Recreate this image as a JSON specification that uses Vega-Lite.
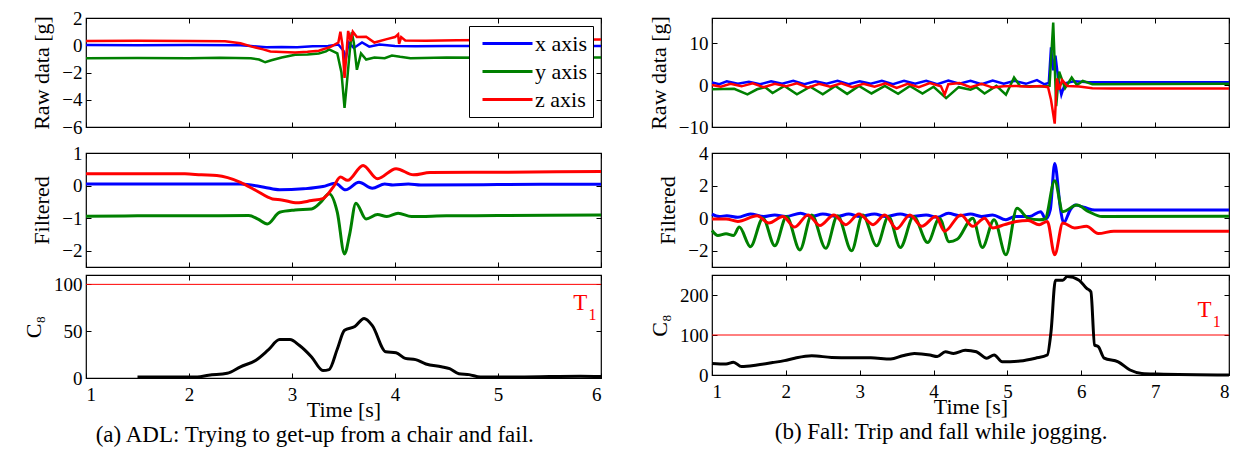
{
"$schema": "https://vega.github.io/schema/vega-lite/v6.json",
"autosize": {"type": "pad"},
"padding": {"left": 21, "top": 8, "right": 5, "bottom": 5},
"background": "white",
"config": {
  "font": "Liberation Serif",
  "view": {"stroke": "black", "strokeWidth": 1.2},
  "axis": {"grid": false, "domain": false, "tickColor": "black", "tickSize": -5, "labelPadding": 9, "labelFontSize": 19, "labelColor": "black", "titleFontSize": 22, "titleFontWeight": "normal", "titleColor": "black", "titlePadding": 8, "labelFont": "Liberation Serif", "titleFont": "Liberation Serif", "format": "d"},
  "legend": {"labelFont": "Liberation Serif"}
},
"datasets": {
  "rawA": [
    {"t":1,"v":0.02,"a":"x axis"},{"t":1.5,"v":0.0,"a":"x axis"},{"t":2,"v":0.02,"a":"x axis"},{"t":2.5,"v":0.0,"a":"x axis"},{"t":2.6,"v":-0.05,"a":"x axis"},{"t":2.75,"v":-0.15,"a":"x axis"},{"t":2.9,"v":-0.12,"a":"x axis"},{"t":3.05,"v":-0.15,"a":"x axis"},{"t":3.2,"v":-0.08,"a":"x axis"},{"t":3.35,"v":-0.05,"a":"x axis"},{"t":3.45,"v":0.05,"a":"x axis"},{"t":3.5,"v":-0.4,"a":"x axis"},{"t":3.52,"v":-1.1,"a":"x axis"},{"t":3.55,"v":0.2,"a":"x axis"},{"t":3.6,"v":-0.2,"a":"x axis"},{"t":3.68,"v":0.2,"a":"x axis"},{"t":3.75,"v":-0.1,"a":"x axis"},{"t":3.85,"v":0.05,"a":"x axis"},{"t":4.0,"v":-0.05,"a":"x axis"},{"t":4.2,"v":-0.08,"a":"x axis"},{"t":4.5,"v":-0.05,"a":"x axis"},{"t":5,"v":-0.05,"a":"x axis"},{"t":5.5,"v":-0.05,"a":"x axis"},{"t":6,"v":-0.05,"a":"x axis"},
    {"t":1,"v":-0.95,"a":"y axis"},{"t":1.5,"v":-0.93,"a":"y axis"},{"t":2,"v":-0.95,"a":"y axis"},{"t":2.3,"v":-0.92,"a":"y axis"},{"t":2.6,"v":-0.95,"a":"y axis"},{"t":2.68,"v":-1.05,"a":"y axis"},{"t":2.74,"v":-1.25,"a":"y axis"},{"t":2.8,"v":-1.1,"a":"y axis"},{"t":2.9,"v":-0.9,"a":"y axis"},{"t":3.03,"v":-0.7,"a":"y axis"},{"t":3.15,"v":-0.68,"a":"y axis"},{"t":3.26,"v":-0.6,"a":"y axis"},{"t":3.33,"v":-0.45,"a":"y axis"},{"t":3.36,"v":-0.3,"a":"y axis"},{"t":3.4,"v":-0.45,"a":"y axis"},{"t":3.44,"v":-0.6,"a":"y axis"},{"t":3.48,"v":-2.0,"a":"y axis"},{"t":3.51,"v":-4.6,"a":"y axis"},{"t":3.53,"v":-3.0,"a":"y axis"},{"t":3.56,"v":-0.5,"a":"y axis"},{"t":3.58,"v":0.95,"a":"y axis"},{"t":3.6,"v":0.2,"a":"y axis"},{"t":3.63,"v":-1.8,"a":"y axis"},{"t":3.67,"v":-0.6,"a":"y axis"},{"t":3.72,"v":-1.05,"a":"y axis"},{"t":3.8,"v":-0.9,"a":"y axis"},{"t":3.9,"v":-0.95,"a":"y axis"},{"t":3.97,"v":-0.75,"a":"y axis"},{"t":4.05,"v":-0.85,"a":"y axis"},{"t":4.15,"v":-0.95,"a":"y axis"},{"t":4.5,"v":-0.9,"a":"y axis"},{"t":5,"v":-0.92,"a":"y axis"},{"t":5.5,"v":-0.9,"a":"y axis"},{"t":6,"v":-0.9,"a":"y axis"},
    {"t":1,"v":0.32,"a":"z axis"},{"t":1.5,"v":0.33,"a":"z axis"},{"t":2,"v":0.32,"a":"z axis"},{"t":2.35,"v":0.3,"a":"z axis"},{"t":2.5,"v":0.15,"a":"z axis"},{"t":2.61,"v":-0.1,"a":"z axis"},{"t":2.72,"v":-0.3,"a":"z axis"},{"t":2.79,"v":-0.46,"a":"z axis"},{"t":2.9,"v":-0.5,"a":"z axis"},{"t":3.03,"v":-0.54,"a":"z axis"},{"t":3.15,"v":-0.48,"a":"z axis"},{"t":3.26,"v":-0.4,"a":"z axis"},{"t":3.38,"v":-0.1,"a":"z axis"},{"t":3.45,"v":0.2,"a":"z axis"},{"t":3.47,"v":1.0,"a":"z axis"},{"t":3.49,"v":0.0,"a":"z axis"},{"t":3.51,"v":-2.4,"a":"z axis"},{"t":3.53,"v":-0.5,"a":"z axis"},{"t":3.545,"v":1.05,"a":"z axis"},{"t":3.57,"v":0.3,"a":"z axis"},{"t":3.59,"v":1.0,"a":"z axis"},{"t":3.63,"v":0.6,"a":"z axis"},{"t":3.72,"v":0.63,"a":"z axis"},{"t":3.8,"v":0.2,"a":"z axis"},{"t":3.92,"v":0.45,"a":"z axis"},{"t":4.0,"v":0.6,"a":"z axis"},{"t":4.03,"v":0.8,"a":"z axis"},{"t":4.04,"v":0.1,"a":"z axis"},{"t":4.06,"v":0.6,"a":"z axis"},{"t":4.1,"v":0.35,"a":"z axis"},{"t":4.3,"v":0.33,"a":"z axis"},{"t":4.6,"v":0.36,"a":"z axis"},{"t":5,"v":0.38,"a":"z axis"},{"t":5.5,"v":0.4,"a":"z axis"},{"t":6,"v":0.42,"a":"z axis"}
  ],
  "filtA": [
    {"t":1,"v":0.05,"a":"x axis"},{"t":2,"v":0.05,"a":"x axis"},{"t":2.5,"v":0.05,"a":"x axis"},{"t":2.73,"v":-0.05,"a":"x axis"},{"t":2.88,"v":-0.13,"a":"x axis"},{"t":3.11,"v":-0.1,"a":"x axis"},{"t":3.3,"v":-0.03,"a":"x axis"},{"t":3.42,"v":0.07,"a":"x axis"},{"t":3.52,"v":-0.13,"a":"x axis"},{"t":3.65,"v":0.1,"a":"x axis"},{"t":3.78,"v":-0.08,"a":"x axis"},{"t":3.9,"v":0.05,"a":"x axis"},{"t":3.98,"v":0.02,"a":"x axis"},{"t":4.13,"v":0.05,"a":"x axis"},{"t":4.25,"v":0.02,"a":"x axis"},{"t":5,"v":0.03,"a":"x axis"},{"t":5.5,"v":0.04,"a":"x axis"},{"t":6,"v":0.04,"a":"x axis"},
    {"t":1,"v":-0.94,"a":"y axis"},{"t":1.5,"v":-0.93,"a":"y axis"},{"t":2,"v":-0.93,"a":"y axis"},{"t":2.58,"v":-0.92,"a":"y axis"},{"t":2.67,"v":-1.03,"a":"y axis"},{"t":2.76,"v":-1.18,"a":"y axis"},{"t":2.88,"v":-0.82,"a":"y axis"},{"t":3.03,"v":-0.75,"a":"y axis"},{"t":3.19,"v":-0.72,"a":"y axis"},{"t":3.28,"v":-0.51,"a":"y axis"},{"t":3.36,"v":-0.25,"a":"y axis"},{"t":3.44,"v":-0.82,"a":"y axis"},{"t":3.51,"v":-2.1,"a":"y axis"},{"t":3.56,"v":-1.49,"a":"y axis"},{"t":3.62,"v":-0.54,"a":"y axis"},{"t":3.72,"v":-1.03,"a":"y axis"},{"t":3.83,"v":-0.89,"a":"y axis"},{"t":3.92,"v":-0.95,"a":"y axis"},{"t":4.03,"v":-0.85,"a":"y axis"},{"t":4.16,"v":-0.95,"a":"y axis"},{"t":4.5,"v":-0.93,"a":"y axis"},{"t":5,"v":-0.92,"a":"y axis"},{"t":6,"v":-0.9,"a":"y axis"},
    {"t":1,"v":0.36,"a":"z axis"},{"t":1.96,"v":0.36,"a":"z axis"},{"t":2.12,"v":0.33,"a":"z axis"},{"t":2.27,"v":0.31,"a":"z axis"},{"t":2.5,"v":0.1,"a":"z axis"},{"t":2.65,"v":-0.15,"a":"z axis"},{"t":2.81,"v":-0.41,"a":"z axis"},{"t":2.9,"v":-0.44,"a":"z axis"},{"t":3.05,"v":-0.53,"a":"z axis"},{"t":3.19,"v":-0.46,"a":"z axis"},{"t":3.3,"v":-0.4,"a":"z axis"},{"t":3.4,"v":-0.05,"a":"z axis"},{"t":3.47,"v":0.26,"a":"z axis"},{"t":3.54,"v":0.16,"a":"z axis"},{"t":3.69,"v":0.62,"a":"z axis"},{"t":3.83,"v":0.21,"a":"z axis"},{"t":4.01,"v":0.52,"a":"z axis"},{"t":4.18,"v":0.33,"a":"z axis"},{"t":4.34,"v":0.4,"a":"z axis"},{"t":5,"v":0.41,"a":"z axis"},{"t":6,"v":0.43,"a":"z axis"}
  ],
  "c8A": [
    {"t":1.5,"v":1},{"t":1.85,"v":1},{"t":2.08,"v":1},{"t":2.19,"v":3},{"t":2.37,"v":5},{"t":2.5,"v":12},{"t":2.65,"v":19},{"t":2.77,"v":30},{"t":2.88,"v":41},{"t":2.98,"v":41},{"t":3.07,"v":35},{"t":3.19,"v":22.5},{"t":3.3,"v":8},{"t":3.36,"v":9},{"t":3.44,"v":31},{"t":3.51,"v":51},{"t":3.61,"v":55},{"t":3.7,"v":63.6},{"t":3.78,"v":56},{"t":3.91,"v":28},{"t":4.01,"v":27},{"t":4.1,"v":21},{"t":4.2,"v":19.6},{"t":4.3,"v":15},{"t":4.45,"v":12},{"t":4.53,"v":10},{"t":4.62,"v":4.6},{"t":4.72,"v":3.6},{"t":4.83,"v":1},{"t":5.2,"v":1},{"t":5.8,"v":2},{"t":6,"v":1.5}
  ],
  "annA": [{"thr":100,"t":5.8,"v":80,"lab":"T","sub":"1"}],
  "rawB": [
    {"t":1,"v":0.6,"a":"x axis"},{"t":1.1,"v":0.2,"a":"x axis"},{"t":1.2,"v":0.9,"a":"x axis"},{"t":1.35,"v":0.3,"a":"x axis"},{"t":1.5,"v":0.8,"a":"x axis"},{"t":1.65,"v":0.2,"a":"x axis"},{"t":1.8,"v":0.9,"a":"x axis"},{"t":1.95,"v":0.3,"a":"x axis"},{"t":2.1,"v":1.0,"a":"x axis"},{"t":2.25,"v":0.2,"a":"x axis"},{"t":2.4,"v":0.9,"a":"x axis"},{"t":2.55,"v":0.3,"a":"x axis"},{"t":2.7,"v":1.0,"a":"x axis"},{"t":2.85,"v":0.2,"a":"x axis"},{"t":3.0,"v":0.9,"a":"x axis"},{"t":3.15,"v":0.3,"a":"x axis"},{"t":3.3,"v":1.0,"a":"x axis"},{"t":3.45,"v":0.2,"a":"x axis"},{"t":3.6,"v":1.0,"a":"x axis"},{"t":3.75,"v":0.3,"a":"x axis"},{"t":3.9,"v":1.0,"a":"x axis"},{"t":4.05,"v":0.2,"a":"x axis"},{"t":4.2,"v":1.1,"a":"x axis"},{"t":4.35,"v":0.3,"a":"x axis"},{"t":4.5,"v":1.0,"a":"x axis"},{"t":4.65,"v":0.2,"a":"x axis"},{"t":4.8,"v":1.1,"a":"x axis"},{"t":4.95,"v":0.3,"a":"x axis"},{"t":5.1,"v":1.0,"a":"x axis"},{"t":5.25,"v":0.3,"a":"x axis"},{"t":5.4,"v":1.2,"a":"x axis"},{"t":5.5,"v":0.2,"a":"x axis"},{"t":5.56,"v":0.5,"a":"x axis"},{"t":5.59,"v":9,"a":"x axis"},{"t":5.62,"v":3.5,"a":"x axis"},{"t":5.65,"v":7,"a":"x axis"},{"t":5.69,"v":1.2,"a":"x axis"},{"t":5.73,"v":-2.3,"a":"x axis"},{"t":5.78,"v":0.4,"a":"x axis"},{"t":5.9,"v":0.9,"a":"x axis"},{"t":6.1,"v":0.7,"a":"x axis"},{"t":8,"v":0.7,"a":"x axis"},
    {"t":1.0,"v":-1.0,"a":"y axis"},{"t":1.3,"v":-0.9,"a":"y axis"},{"t":1.48,"v":-2.2,"a":"y axis"},{"t":1.61,"v":-1.0,"a":"y axis"},{"t":1.72,"v":-0.5,"a":"y axis"},{"t":1.82,"v":-1.9,"a":"y axis"},{"t":1.98,"v":-0.2,"a":"y axis"},{"t":2.15,"v":-2.2,"a":"y axis"},{"t":2.33,"v":-0.4,"a":"y axis"},{"t":2.5,"v":-2.2,"a":"y axis"},{"t":2.67,"v":-0.2,"a":"y axis"},{"t":2.83,"v":-2.1,"a":"y axis"},{"t":2.99,"v":-0.2,"a":"y axis"},{"t":3.16,"v":-2.0,"a":"y axis"},{"t":3.34,"v":-0.2,"a":"y axis"},{"t":3.52,"v":-2.1,"a":"y axis"},{"t":3.68,"v":-0.2,"a":"y axis"},{"t":3.85,"v":-2.0,"a":"y axis"},{"t":4.0,"v":-0.4,"a":"y axis"},{"t":4.17,"v":-3.1,"a":"y axis"},{"t":4.34,"v":-0.5,"a":"y axis"},{"t":4.5,"v":-1.1,"a":"y axis"},{"t":4.58,"v":-0.5,"a":"y axis"},{"t":4.69,"v":-2.0,"a":"y axis"},{"t":4.85,"v":-0.2,"a":"y axis"},{"t":4.98,"v":-2.3,"a":"y axis"},{"t":5.09,"v":1.8,"a":"y axis"},{"t":5.17,"v":-0.2,"a":"y axis"},{"t":5.49,"v":-0.35,"a":"y axis"},{"t":5.57,"v":-0.2,"a":"y axis"},{"t":5.62,"v":14.9,"a":"y axis"},{"t":5.66,"v":-5,"a":"y axis"},{"t":5.7,"v":3.2,"a":"y axis"},{"t":5.78,"v":-0.75,"a":"y axis"},{"t":5.87,"v":1.8,"a":"y axis"},{"t":5.94,"v":0.0,"a":"y axis"},{"t":6.02,"v":1.0,"a":"y axis"},{"t":6.15,"v":0.2,"a":"y axis"},{"t":8,"v":0.3,"a":"y axis"},
    {"t":1,"v":0.0,"a":"z axis"},{"t":1.12,"v":-0.4,"a":"z axis"},{"t":1.25,"v":0.3,"a":"z axis"},{"t":1.4,"v":-0.3,"a":"z axis"},{"t":1.55,"v":0.4,"a":"z axis"},{"t":1.7,"v":-0.5,"a":"z axis"},{"t":1.85,"v":0.3,"a":"z axis"},{"t":2.0,"v":-0.3,"a":"z axis"},{"t":2.15,"v":0.4,"a":"z axis"},{"t":2.3,"v":-0.6,"a":"z axis"},{"t":2.45,"v":0.3,"a":"z axis"},{"t":2.6,"v":-0.4,"a":"z axis"},{"t":2.75,"v":0.4,"a":"z axis"},{"t":2.9,"v":-0.5,"a":"z axis"},{"t":3.05,"v":0.3,"a":"z axis"},{"t":3.2,"v":-0.4,"a":"z axis"},{"t":3.35,"v":0.4,"a":"z axis"},{"t":3.5,"v":-0.7,"a":"z axis"},{"t":3.65,"v":0.3,"a":"z axis"},{"t":3.8,"v":-0.5,"a":"z axis"},{"t":3.95,"v":0.5,"a":"z axis"},{"t":4.1,"v":-0.3,"a":"z axis"},{"t":4.15,"v":-2.3,"a":"z axis"},{"t":4.2,"v":0.2,"a":"z axis"},{"t":4.35,"v":0.5,"a":"z axis"},{"t":4.5,"v":-0.5,"a":"z axis"},{"t":4.65,"v":0.3,"a":"z axis"},{"t":4.8,"v":-0.6,"a":"z axis"},{"t":4.95,"v":-0.3,"a":"z axis"},{"t":5.1,"v":-0.2,"a":"z axis"},{"t":5.3,"v":-0.4,"a":"z axis"},{"t":5.45,"v":-0.2,"a":"z axis"},{"t":5.55,"v":-0.5,"a":"z axis"},{"t":5.59,"v":-3.5,"a":"z axis"},{"t":5.64,"v":-9.2,"a":"z axis"},{"t":5.67,"v":1.6,"a":"z axis"},{"t":5.7,"v":-1.1,"a":"z axis"},{"t":5.74,"v":1.2,"a":"z axis"},{"t":5.81,"v":-0.2,"a":"z axis"},{"t":5.97,"v":-0.35,"a":"z axis"},{"t":6.15,"v":-0.75,"a":"z axis"},{"t":6.4,"v":-0.8,"a":"z axis"},{"t":8,"v":-0.8,"a":"z axis"}
  ],
  "filtB": [
    {"t":1,"v":0.25,"a":"x axis"},{"t":1.1,"v":0.1,"a":"x axis"},{"t":1.2,"v":0.15,"a":"x axis"},{"t":1.35,"v":0.05,"a":"x axis"},{"t":1.52,"v":0.25,"a":"x axis"},{"t":1.7,"v":0.1,"a":"x axis"},{"t":1.85,"v":0.2,"a":"x axis"},{"t":2.0,"v":0.1,"a":"x axis"},{"t":2.2,"v":0.3,"a":"x axis"},{"t":2.35,"v":0.1,"a":"x axis"},{"t":2.5,"v":0.25,"a":"x axis"},{"t":2.7,"v":0.1,"a":"x axis"},{"t":2.85,"v":0.25,"a":"x axis"},{"t":3.0,"v":0.1,"a":"x axis"},{"t":3.2,"v":0.25,"a":"x axis"},{"t":3.35,"v":0.1,"a":"x axis"},{"t":3.55,"v":0.25,"a":"x axis"},{"t":3.7,"v":0.1,"a":"x axis"},{"t":3.9,"v":0.2,"a":"x axis"},{"t":4.05,"v":0.05,"a":"x axis"},{"t":4.2,"v":0.3,"a":"x axis"},{"t":4.35,"v":0.15,"a":"x axis"},{"t":4.5,"v":0.25,"a":"x axis"},{"t":4.65,"v":0.1,"a":"x axis"},{"t":4.8,"v":0.2,"a":"x axis"},{"t":4.98,"v":-0.1,"a":"x axis"},{"t":5.1,"v":0.1,"a":"x axis"},{"t":5.3,"v":0.1,"a":"x axis"},{"t":5.45,"v":0.4,"a":"x axis"},{"t":5.52,"v":-0.05,"a":"x axis"},{"t":5.58,"v":0.5,"a":"x axis"},{"t":5.64,"v":3.35,"a":"x axis"},{"t":5.72,"v":0.5,"a":"x axis"},{"t":5.76,"v":-0.3,"a":"x axis"},{"t":5.85,"v":0.5,"a":"x axis"},{"t":5.92,"v":0.8,"a":"x axis"},{"t":6.05,"v":0.65,"a":"x axis"},{"t":6.18,"v":0.5,"a":"x axis"},{"t":8,"v":0.5,"a":"x axis"},
    {"t":1.0,"v":-0.76,"a":"y axis"},{"t":1.08,"v":-1.07,"a":"y axis"},{"t":1.19,"v":-0.96,"a":"y axis"},{"t":1.29,"v":-1.07,"a":"y axis"},{"t":1.37,"v":-0.55,"a":"y axis"},{"t":1.52,"v":-1.75,"a":"y axis"},{"t":1.69,"v":0.0,"a":"y axis"},{"t":1.85,"v":-1.7,"a":"y axis"},{"t":2.01,"v":0.1,"a":"y axis"},{"t":2.19,"v":-1.95,"a":"y axis"},{"t":2.35,"v":0.2,"a":"y axis"},{"t":2.54,"v":-1.85,"a":"y axis"},{"t":2.7,"v":0.15,"a":"y axis"},{"t":2.89,"v":-2.0,"a":"y axis"},{"t":3.04,"v":0.2,"a":"y axis"},{"t":3.23,"v":-1.7,"a":"y axis"},{"t":3.39,"v":0.1,"a":"y axis"},{"t":3.55,"v":-1.8,"a":"y axis"},{"t":3.73,"v":0.1,"a":"y axis"},{"t":3.92,"v":-1.5,"a":"y axis"},{"t":4.08,"v":0.0,"a":"y axis"},{"t":4.21,"v":-1.45,"a":"y axis"},{"t":4.32,"v":-1.3,"a":"y axis"},{"t":4.53,"v":0.0,"a":"y axis"},{"t":4.66,"v":-1.8,"a":"y axis"},{"t":4.82,"v":-0.1,"a":"y axis"},{"t":4.98,"v":-2.25,"a":"y axis"},{"t":5.13,"v":0.6,"a":"y axis"},{"t":5.28,"v":0.0,"a":"y axis"},{"t":5.43,"v":-0.1,"a":"y axis"},{"t":5.51,"v":-0.05,"a":"y axis"},{"t":5.64,"v":2.3,"a":"y axis"},{"t":5.75,"v":0.4,"a":"y axis"},{"t":5.94,"v":0.8,"a":"y axis"},{"t":6.1,"v":0.4,"a":"y axis"},{"t":6.28,"v":0.1,"a":"y axis"},{"t":8,"v":0.12,"a":"y axis"},
    {"t":1.0,"v":-0.05,"a":"z axis"},{"t":1.19,"v":-0.05,"a":"z axis"},{"t":1.35,"v":-0.2,"a":"z axis"},{"t":1.61,"v":0.15,"a":"z axis"},{"t":1.77,"v":-0.3,"a":"z axis"},{"t":1.96,"v":0.1,"a":"z axis"},{"t":2.12,"v":-0.55,"a":"z axis"},{"t":2.3,"v":0.2,"a":"z axis"},{"t":2.46,"v":-0.45,"a":"z axis"},{"t":2.65,"v":0.2,"a":"z axis"},{"t":2.81,"v":-0.4,"a":"z axis"},{"t":2.99,"v":0.25,"a":"z axis"},{"t":3.18,"v":-0.4,"a":"z axis"},{"t":3.34,"v":0.2,"a":"z axis"},{"t":3.5,"v":-0.65,"a":"z axis"},{"t":3.68,"v":0.2,"a":"z axis"},{"t":3.84,"v":-0.5,"a":"z axis"},{"t":4.03,"v":0.1,"a":"z axis"},{"t":4.15,"v":-0.8,"a":"z axis"},{"t":4.37,"v":0.2,"a":"z axis"},{"t":4.53,"v":-0.5,"a":"z axis"},{"t":4.69,"v":0.0,"a":"z axis"},{"t":4.8,"v":-0.6,"a":"z axis"},{"t":4.96,"v":-0.4,"a":"z axis"},{"t":5.12,"v":-0.2,"a":"z axis"},{"t":5.28,"v":-0.15,"a":"z axis"},{"t":5.43,"v":-0.4,"a":"z axis"},{"t":5.54,"v":-0.2,"a":"z axis"},{"t":5.64,"v":-2.25,"a":"z axis"},{"t":5.75,"v":-0.3,"a":"z axis"},{"t":5.91,"v":-0.6,"a":"z axis"},{"t":6.07,"v":-0.5,"a":"z axis"},{"t":6.23,"v":-0.95,"a":"z axis"},{"t":6.44,"v":-0.8,"a":"z axis"},{"t":8,"v":-0.8,"a":"z axis"}
  ],
  "c8B": [
    {"t":1.0,"v":29},{"t":1.19,"v":27.5},{"t":1.29,"v":32},{"t":1.4,"v":21},{"t":1.61,"v":25},{"t":1.82,"v":31},{"t":1.98,"v":36},{"t":2.12,"v":42},{"t":2.35,"v":48},{"t":2.62,"v":44},{"t":2.88,"v":43},{"t":3.15,"v":43},{"t":3.42,"v":40},{"t":3.58,"v":48},{"t":3.74,"v":54},{"t":3.95,"v":50},{"t":4.05,"v":46},{"t":4.16,"v":58},{"t":4.27,"v":54},{"t":4.43,"v":62},{"t":4.58,"v":58},{"t":4.72,"v":42},{"t":4.82,"v":50},{"t":4.93,"v":33},{"t":5.17,"v":35},{"t":5.38,"v":42},{"t":5.54,"v":50},{"t":5.59,"v":108},{"t":5.65,"v":237},{"t":5.75,"v":237},{"t":5.81,"v":246},{"t":5.97,"v":237},{"t":6.07,"v":217},{"t":6.13,"v":208},{"t":6.18,"v":75},{"t":6.23,"v":71},{"t":6.31,"v":42},{"t":6.5,"v":33},{"t":6.66,"v":12.5},{"t":6.82,"v":4},{"t":7.03,"v":2.5},{"t":8,"v":0}
  ],
  "annB": [{"thr":100,"t":7.67,"v":162,"lab":"T","sub":"1"}]
},
"spacing": 38,
"resolve": {"scale": {"color": "independent"}, "legend": {"color": "independent"}},
"hconcat": [
  {
    "spacing": 5,
    "title": {"text": "(a)  ADL: Trying to get-up from a chair and fail.", "orient": "bottom", "anchor": "middle", "fontSize": 23, "fontWeight": "normal", "font": "Liberation Serif", "offset": 3, "color": "black"},
    "resolve": {"scale": {"color": "independent"}, "legend": {"color": "independent"}},
    "vconcat": [
      {
        "width": 515, "height": 109,
        "resolve": {"scale": {"x": "independent", "y": "independent"}},
        "layer": [
          {
            "data": {"name": "rawA"},
            "mark": {"type": "line", "strokeWidth": 2.5},
            "encoding": {
              "x": {"field": "t", "type": "quantitative", "scale": {"domain": [1, 6], "nice": false, "zero": false}, "axis": {"values": [1, 2, 3, 4, 5, 6], "labels": false, "title": null}},
              "y": {"field": "v", "type": "quantitative", "scale": {"domain": [-6, 2], "nice": false, "zero": false}, "axis": {"values": [-6, -4, -2, 0, 2], "title": "Raw data [g]"}},
              "color": {"field": "a", "type": "nominal", "scale": {"domain": ["x axis", "y axis", "z axis"], "range": ["#0000ff", "#008000", "#ff0000"]},
                "legend": {"title": null, "orient": "top-right", "offset": 8, "strokeColor": "black", "fillColor": "white", "padding": 6, "symbolType": "M-0.4,0H4.6", "symbolSize": 400, "symbolStrokeWidth": 3, "labelOffset": 37, "labelFontSize": 22, "labelColor": "black", "rowPadding": 5}}
            }
          },
          {
            "data": {"name": "rawA"},
            "mark": {"type": "line", "opacity": 0},
            "encoding": {
              "x": {"field": "t", "type": "quantitative", "scale": {"domain": [1, 6], "nice": false, "zero": false}, "axis": {"orient": "top", "values": [1, 2, 3, 4, 5, 6], "labels": false, "title": null}},
              "y": {"field": "v", "type": "quantitative", "scale": {"domain": [-6, 2], "nice": false, "zero": false}, "axis": {"orient": "right", "values": [-6, -4, -2, 0, 2], "labels": false, "title": null}}
            }
          }
        ]
      },
      {
        "spacing": 4,
        "resolve": {"scale": {"color": "independent"}, "legend": {"color": "independent"}},
        "vconcat": [
          {
            "width": 515, "height": 114,
            "resolve": {"scale": {"x": "independent", "y": "independent"}},
            "layer": [
              {
                "data": {"name": "filtA"},
                "mark": {"type": "line", "strokeWidth": 3, "interpolate": "monotone"},
                "encoding": {
                  "x": {"field": "t", "type": "quantitative", "scale": {"domain": [1, 6], "nice": false, "zero": false}, "axis": {"values": [1, 2, 3, 4, 5, 6], "labels": false, "title": null}},
                  "y": {"field": "v", "type": "quantitative", "scale": {"domain": [-2.5, 1], "nice": false, "zero": false}, "axis": {"values": [-2, -1, 0, 1], "title": "Filtered"}},
                  "color": {"field": "a", "type": "nominal", "scale": {"domain": ["x axis", "y axis", "z axis"], "range": ["#0000ff", "#008000", "#ff0000"]}, "legend": null}
                }
              },
              {
                "data": {"name": "filtA"},
                "mark": {"type": "line", "opacity": 0},
                "encoding": {
                  "x": {"field": "t", "type": "quantitative", "scale": {"domain": [1, 6], "nice": false, "zero": false}, "axis": {"orient": "top", "values": [1, 2, 3, 4, 5, 6], "labels": false, "title": null}},
                  "y": {"field": "v", "type": "quantitative", "scale": {"domain": [-2.5, 1], "nice": false, "zero": false}, "axis": {"orient": "right", "values": [-2, -1, 0, 1], "labels": false, "title": null}}
                }
              }
            ]
          },
          {
            "width": 515, "height": 103,
            "resolve": {"scale": {"x": "independent", "y": "independent"}},
            "layer": [
              {
                "layer": [
                  {
                    "data": {"name": "annA"},
                    "mark": {"type": "rule", "color": "#ff0000", "strokeWidth": 1},
                    "encoding": {"y": {"field": "thr", "type": "quantitative", "scale": {"domain": [0, 110], "nice": false}, "axis": {"values": [0, 50, 100], "title": "C₈"}}}
                  },
                  {
                    "data": {"name": "c8A"},
                    "mark": {"type": "line", "color": "black", "strokeWidth": 3, "interpolate": "monotone"},
                    "encoding": {
                      "x": {"field": "t", "type": "quantitative", "scale": {"domain": [1, 6], "nice": false, "zero": false}, "axis": {"values": [1, 2, 3, 4, 5, 6], "title": "Time [s]", "labelPadding": 12, "titlePadding": -5}},
                      "y": {"field": "v", "type": "quantitative"}
                    }
                  },
                  {
                    "data": {"name": "annA"},
                    "mark": {"type": "text", "color": "#ff0000", "fontSize": 23, "font": "Liberation Serif"},
                    "encoding": {"x": {"field": "t", "type": "quantitative"}, "y": {"field": "v", "type": "quantitative"}, "text": {"field": "lab"}}
                  },
                  {
                    "data": {"name": "annA"},
                    "mark": {"type": "text", "color": "#ff0000", "fontSize": 16, "font": "Liberation Serif", "dx": 12, "dy": 12},
                    "encoding": {"x": {"field": "t", "type": "quantitative"}, "y": {"field": "v", "type": "quantitative"}, "text": {"field": "sub"}}
                  }
                ]
              },
              {
                "data": {"name": "c8A"},
                "mark": {"type": "line", "opacity": 0},
                "encoding": {
                  "x": {"field": "t", "type": "quantitative", "scale": {"domain": [1, 6], "nice": false, "zero": false}, "axis": {"orient": "top", "values": [1, 2, 3, 4, 5, 6], "labels": false, "title": null}},
                  "y": {"field": "v", "type": "quantitative", "scale": {"domain": [0, 110], "nice": false, "zero": false}, "axis": {"orient": "right", "values": [0, 50, 100], "labels": false, "title": null}}
                }
              }
            ]
          }
        ]
      }
    ]
  },
  {
    "spacing": 5,
    "title": {"text": "(b)  Fall: Trip and fall while jogging.", "orient": "bottom", "anchor": "middle", "fontSize": 23, "fontWeight": "normal", "font": "Liberation Serif", "offset": 3, "color": "black"},
    "resolve": {"scale": {"color": "independent"}, "legend": {"color": "independent"}},
    "vconcat": [
      {
        "width": 517, "height": 109,
        "resolve": {"scale": {"x": "independent", "y": "independent"}},
        "layer": [
          {
            "data": {"name": "rawB"},
            "mark": {"type": "line", "strokeWidth": 2.5},
            "encoding": {
              "x": {"field": "t", "type": "quantitative", "scale": {"domain": [1, 8], "nice": false, "zero": false}, "axis": {"values": [1, 2, 3, 4, 5, 6, 7, 8], "labels": false, "title": null}},
              "y": {"field": "v", "type": "quantitative", "scale": {"domain": [-10, 16], "nice": false, "zero": false}, "axis": {"values": [-10, 0, 10], "title": "Raw data [g]"}},
              "color": {"field": "a", "type": "nominal", "scale": {"domain": ["x axis", "y axis", "z axis"], "range": ["#0000ff", "#008000", "#ff0000"]}, "legend": null}
            }
          },
          {
            "data": {"name": "rawB"},
            "mark": {"type": "line", "opacity": 0},
            "encoding": {
              "x": {"field": "t", "type": "quantitative", "scale": {"domain": [1, 8], "nice": false, "zero": false}, "axis": {"orient": "top", "values": [1, 2, 3, 4, 5, 6, 7, 8], "labels": false, "title": null}},
              "y": {"field": "v", "type": "quantitative", "scale": {"domain": [-10, 16], "nice": false, "zero": false}, "axis": {"orient": "right", "values": [-10, 0, 10], "labels": false, "title": null}}
            }
          }
        ]
      },
      {
        "spacing": 1,
        "resolve": {"scale": {"color": "independent"}, "legend": {"color": "independent"}},
        "vconcat": [
          {
            "width": 517, "height": 114,
            "resolve": {"scale": {"x": "independent", "y": "independent"}},
            "layer": [
              {
                "data": {"name": "filtB"},
                "mark": {"type": "line", "strokeWidth": 3, "interpolate": "monotone"},
                "encoding": {
                  "x": {"field": "t", "type": "quantitative", "scale": {"domain": [1, 8], "nice": false, "zero": false}, "axis": {"values": [1, 2, 3, 4, 5, 6, 7, 8], "labels": false, "title": null}},
                  "y": {"field": "v", "type": "quantitative", "scale": {"domain": [-3, 4], "nice": false, "zero": false}, "axis": {"values": [-2, 0, 2, 4], "title": "Filtered"}},
                  "color": {"field": "a", "type": "nominal", "scale": {"domain": ["x axis", "y axis", "z axis"], "range": ["#0000ff", "#008000", "#ff0000"]}, "legend": null}
                }
              },
              {
                "data": {"name": "filtB"},
                "mark": {"type": "line", "opacity": 0},
                "encoding": {
                  "x": {"field": "t", "type": "quantitative", "scale": {"domain": [1, 8], "nice": false, "zero": false}, "axis": {"orient": "top", "values": [1, 2, 3, 4, 5, 6, 7, 8], "labels": false, "title": null}},
                  "y": {"field": "v", "type": "quantitative", "scale": {"domain": [-3, 4], "nice": false, "zero": false}, "axis": {"orient": "right", "values": [-2, 0, 2, 4], "labels": false, "title": null}}
                }
              }
            ]
          },
          {
            "width": 517, "height": 100,
            "resolve": {"scale": {"x": "independent", "y": "independent"}},
            "layer": [
              {
                "layer": [
                  {
                    "data": {"name": "annB"},
                    "mark": {"type": "rule", "color": "#ff0000", "strokeWidth": 1},
                    "encoding": {"y": {"field": "thr", "type": "quantitative", "scale": {"domain": [0, 250], "nice": false}, "axis": {"values": [0, 100, 200], "title": "C₈"}}}
                  },
                  {
                    "data": {"name": "c8B"},
                    "mark": {"type": "line", "color": "black", "strokeWidth": 3, "interpolate": "monotone"},
                    "encoding": {
                      "x": {"field": "t", "type": "quantitative", "scale": {"domain": [1, 8], "nice": false, "zero": false}, "axis": {"values": [1, 2, 3, 4, 5, 6, 7, 8], "title": "Time [s]", "labelPadding": 12, "titlePadding": -5}},
                      "y": {"field": "v", "type": "quantitative"}
                    }
                  },
                  {
                    "data": {"name": "annB"},
                    "mark": {"type": "text", "color": "#ff0000", "fontSize": 23, "font": "Liberation Serif"},
                    "encoding": {"x": {"field": "t", "type": "quantitative"}, "y": {"field": "v", "type": "quantitative"}, "text": {"field": "lab"}}
                  },
                  {
                    "data": {"name": "annB"},
                    "mark": {"type": "text", "color": "#ff0000", "fontSize": 16, "font": "Liberation Serif", "dx": 12, "dy": 12},
                    "encoding": {"x": {"field": "t", "type": "quantitative"}, "y": {"field": "v", "type": "quantitative"}, "text": {"field": "sub"}}
                  }
                ]
              },
              {
                "data": {"name": "c8B"},
                "mark": {"type": "line", "opacity": 0},
                "encoding": {
                  "x": {"field": "t", "type": "quantitative", "scale": {"domain": [1, 8], "nice": false, "zero": false}, "axis": {"orient": "top", "values": [1, 2, 3, 4, 5, 6, 7, 8], "labels": false, "title": null}},
                  "y": {"field": "v", "type": "quantitative", "scale": {"domain": [0, 250], "nice": false, "zero": false}, "axis": {"orient": "right", "values": [0, 100, 200], "labels": false, "title": null}}
                }
              }
            ]
          }
        ]
      }
    ]
  }
]
}
